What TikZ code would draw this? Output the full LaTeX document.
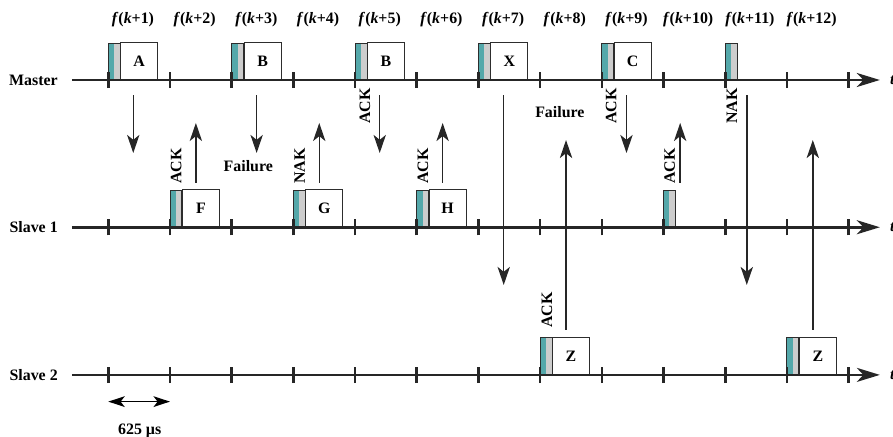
\documentclass[tikz,border=0pt]{standalone}
\usepackage{fontspec}
\setmainfont{Liberation Serif}
\usepackage{tikz}
\usetikzlibrary{arrows.meta, positioning, calc}
\definecolor{hdrteal}{RGB}{84,168,170}
\definecolor{hdrgray}{RGB}{205,205,205}
\definecolor{pktline}{RGB}{45,45,45}
\newcommand{\lblfont}{\fontsize{11}{13}\selectfont\bfseries}
\tikzset{
    % Time axes
    tline/.style={line width=1.8pt, draw=black!85,
                -{Stealth[length=5.6mm, width=3.4mm, inset=1.6mm]}},
    tmark/.style={line width=1.8pt, draw=black!85},
    rowlbl/.style={anchor=east, inner sep=0pt, font=\lblfont},
    slotlbl/.style={inner sep=0pt, font=\lblfont},
    tlbl/.style={anchor=west, inner sep=0pt, font=\lblfont\itshape},
    % Packets
    pktbox/.style={rectangle, draw=pktline, line width=0.6pt, fill=white,
                minimum width=0.9cm, minimum height=0.9cm, inner sep=0pt,
                anchor=south west, font=\lblfont},
    % Messages
    msgarrow/.style={line width=1pt, draw=black!85,
                -{Stealth[length=4.4mm, width=3mm, inset=1.2mm]}},
    acklbl/.style={rotate=90, inner sep=0pt, font=\lblfont},
    faillbl/.style={inner sep=0pt, font=\lblfont},
}
% header strips of a packet
\newcommand{\drawhdr}[2]{%
  \fill[hdrteal] (#1,#2) rectangle ++(0.097,0.9);
  \fill[hdrgray] (#1+0.097,#2) rectangle ++(0.097,0.9);
  \draw[pktline, line width=0.6pt] (#1,#2) rectangle ++(0.194,0.9);
}
\newcommand{\drawpkt}[4]{%
  \drawhdr{#2}{#3}
  \node[pktbox] (#1) at (#2+0.194,#3) {#4};
}

\begin{document}
\begin{tikzpicture}[x=1.5cm, y=1cm]
\useasboundingbox (-1.755,-8.68) rectangle (12.72,1.945);

% slot numbers
\foreach \i in {1,...,12}
  \node[slotlbl] (f\i) at (\i-0.6,1.46) {\textit{f}(\textit{k}+\i)};

% packets
\drawpkt{pa}{0}{0}{A}
\drawpkt{pb}{2}{0}{B}
\drawpkt{pbb}{4}{0}{B}
\drawpkt{px}{6}{0}{X}
\drawpkt{pc}{8}{0}{C}
\drawhdr{10}{0}
\drawpkt{pf}{1}{-3.58}{F}
\drawpkt{pg}{3}{-3.58}{G}
\drawpkt{ph}{5}{-3.58}{H}
\drawhdr{9}{-3.58}
\drawpkt{pz}{7}{-7.17}{Z}
\drawpkt{pzz}{11}{-7.17}{Z}

% time axes
\foreach \r/\yy/\lbl in {master/0/Master, slave1/-3.58/Slave 1, slave2/-7.17/Slave 2} {
  \node[rowlbl] (\r) at (-0.815,\yy) {\lbl};
  \coordinate (\r start) at (-0.588,\yy);
  \coordinate (\r end) at (12.507,\yy);
  \draw[tline] (\r start) -- (\r end);
  \foreach \k in {0,...,12}
    \draw[tmark] (\k,\yy-0.2) -- (\k,\yy+0.2);
  \node[tlbl] (\r t) at (12.668,\yy) {t};
}

% messages
\foreach \n/\x/\ya/\yb in {d1/0.405/-0.365/-1.775, d2/2.405/-0.365/-1.775,
    d3/4.40/-0.365/-1.775, d4/6.41/-0.365/-4.984, d5/8.40/-0.365/-1.775,
    d6/10.35/-0.365/-4.984,
    u1/1.42/-2.504/-1.045, u2/3.42/-2.504/-1.045, u3/5.42/-2.504/-1.045,
    u4/9.27/-2.504/-1.045, u5/7.42/-6.078/-1.459, u6/11.42/-6.078/-1.459} {
  \coordinate (\n a) at (\x,\ya);
  \coordinate (\n b) at (\x,\yb);
  \draw[msgarrow] (\n a) -- (\n b);
}

% acknowledgements
\node[acklbl, anchor=east] (ack1) at (4.16,-0.195) {ACK};
\node[acklbl, anchor=east] (ack2) at (8.15,-0.195) {ACK};
\node[acklbl, anchor=east] (nak1) at (10.11,-0.195) {NAK};
\node[acklbl, anchor=west] (ack3) at (1.10,-2.53) {ACK};
\node[acklbl, anchor=west] (nak2) at (3.10,-2.53) {NAK};
\node[acklbl, anchor=west] (ack4) at (5.10,-2.53) {ACK};
\node[acklbl, anchor=west] (ack5) at (9.10,-2.53) {ACK};
\node[acklbl, anchor=west] (ack6) at (7.11,-6.03) {ACK};

\node[faillbl] (fail1) at (2.27,-2.09) {Failure};
\node[faillbl] (fail2) at (7.32,-0.79) {Failure};

% slot length
\coordinate (len a) at (0,-7.82);
\coordinate (len b) at (1,-7.82);
\draw[line width=1pt, {Stealth[length=4mm, width=2.6mm, inset=1mm]}-{Stealth[length=4mm, width=2.6mm, inset=1mm]}]
  (len a) -- (len b);
\node[faillbl] (len) at (0.51,-8.53) {625 µs};
\end{tikzpicture}
\end{document}
